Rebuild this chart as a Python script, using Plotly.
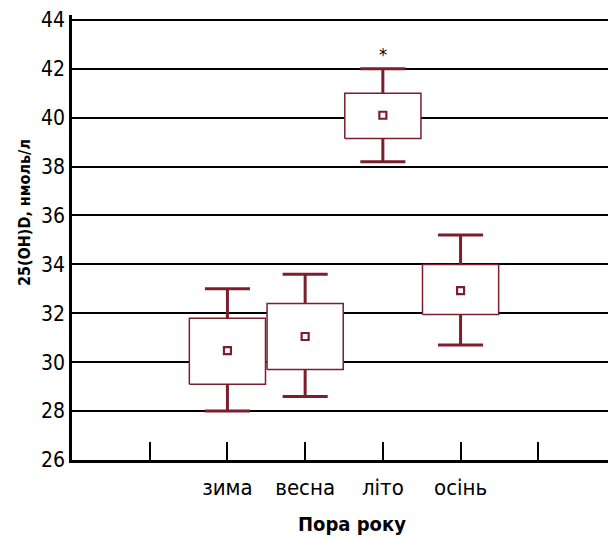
import plotly.graph_objects as go

seasons = ["зима", "весна", "літо", "осінь"]
positions = [2, 3, 4, 5]
low = [28.0, 28.6, 38.2, 30.7]
q1 = [29.1, 29.7, 39.15, 31.95]
mean = [30.47, 31.05, 40.1, 32.93]
q3 = [31.8, 32.4, 41.0, 34.0]
high = [33.0, 33.6, 42.0, 35.2]

tick_positions = [1, 2, 3, 4, 5, 6]
tick_labels = ["", "зима", "весна", "літо", "осінь", ""]
y_ticks = [26, 28, 30, 32, 34, 36, 38, 40, 42, 44]

RED = "#7b1f2c"
FONT = "DejaVu Sans Condensed, Liberation Sans Narrow, sans-serif"
BOX_HALF = 0.49
CAP_HALF = 0.29

fig = go.Figure()

# whisker stems
sx, sy = [], []
for p, lo, hi in zip(positions, low, high):
    sx += [p, p, None]
    sy += [lo, hi, None]
fig.add_trace(go.Scatter(x=sx, y=sy, mode="lines", line=dict(color=RED, width=3),
                         hoverinfo="skip", showlegend=False))

# caps
cx, cy = [], []
for p, lo, hi in zip(positions, low, high):
    cx += [p - CAP_HALF, p + CAP_HALF, None, p - CAP_HALF, p + CAP_HALF, None]
    cy += [lo, lo, None, hi, hi, None]
fig.add_trace(go.Scatter(x=cx, y=cy, mode="lines", line=dict(color=RED, width=3),
                         hoverinfo="skip", showlegend=False))

# boxes
for p, a, b in zip(positions, q1, q3):
    fig.add_trace(go.Scatter(
        x=[p - BOX_HALF, p + BOX_HALF, p + BOX_HALF, p - BOX_HALF, p - BOX_HALF],
        y=[a, a, b, b, a], mode="lines", fill="toself", fillcolor="white",
        line=dict(color=RED, width=1.5), hoverinfo="skip", showlegend=False))

# means
fig.add_trace(go.Scatter(x=positions, y=mean, mode="markers",
                         marker=dict(symbol="square", size=7, color="white",
                                     line=dict(color=RED, width=2.2)),
                         showlegend=False))

fig.add_annotation(x=4, y=42, text="*", showarrow=False, yshift=14,
                   font=dict(family=FONT, size=18, color="black"))

# axis titles as annotations (precise placement)
fig.add_annotation(xref="paper", yref="paper", x=0.515, y=0, yshift=-64,
                   xanchor="center", yanchor="middle", showarrow=False,
                   text="<b>Пора року</b>", font=dict(family=FONT, size=20, color="black"))
fig.add_annotation(xref="paper", yref="paper", x=0, xshift=-48, y=0.555,
                   xanchor="center", yanchor="middle", showarrow=False, textangle=-90,
                   text="<b>25(OH)D, нмоль/л</b>", font=dict(family=FONT, size=16, color="black"))

fig.update_layout(
    width=608, height=530,
    margin=dict(l=64, r=0, t=7, b=78, autoexpand=False),
    plot_bgcolor="white", paper_bgcolor="white",
    font=dict(family=FONT, color="black"),
    xaxis=dict(range=[0, 7], tickvals=tick_positions, ticktext=tick_labels,
               ticks="inside", ticklen=18, tickwidth=2, tickcolor="black",
               showgrid=False, zeroline=False, showline=True, linewidth=2.5,
               linecolor="black", tickfont=dict(size=22), automargin=False,
               ticklabelstandoff=6),
    yaxis=dict(range=[26, 44.2], tickvals=y_ticks, showgrid=True, gridcolor="black",
               gridwidth=1.5, zeroline=False, showline=True, linewidth=2.5,
               linecolor="black", ticks="", tickfont=dict(size=21), automargin=False,
               ticklabeloverflow="allow"),
)

fig.write_html("out.html")
